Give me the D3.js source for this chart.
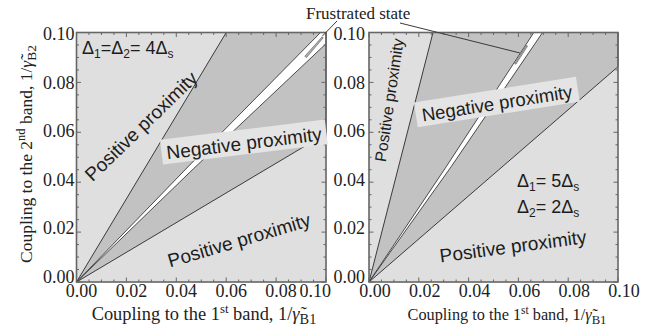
<!DOCTYPE html>
<html><head><meta charset="utf-8">
<script src="https://cdn.jsdelivr.net/npm/d3@7"></script>
<style>html,body{margin:0;padding:0;background:#fff;}svg{display:block;}</style>
</head><body>
<svg id="c" width="645" height="330"></svg>
<script>
// ---- data (values in coupling units) ----
const tickValues = [0, 0.02, 0.04, 0.06, 0.08, 0.10];
const tickLabels = ["0.00", "0.02", "0.04", "0.06", "0.08", "0.10"];
const minorStep = 0.005;
// left panel: Δ1 = Δ2 = 4Δs
const leftNegWedge = [[0, 0], [0.06, 0.1], [0.1, 0.1], [0.1, 0.0595]];
const leftWhiteBand = [[0, 0], [0.045, 0.0465], [0.0978, 0.1], [0.1, 0.1], [0.1, 0.0955], [0.047, 0.0455]];
const leftFrustrated = [[0.0915, 0.0905], [0.0984, 0.0982], [0.0989, 0.0979], [0.0921, 0.0899]];
// right panel: Δ1 = 5Δs, Δ2 = 2Δs
const rightNegWedge = [[0, 0], [0.0257, 0.1], [0.1, 0.1], [0.1, 0.0863]];
const rightWhiteBand = [[0, 0], [0.031, 0.0462], [0.0662, 0.1], [0.0697, 0.1], [0.033, 0.0462]];
const rightFrustrated = [[0.0585, 0.0875], [0.0632, 0.0948], [0.0637, 0.0946], [0.059, 0.0873]];

const svg = d3.select("#c");
const serif = "'Liberation Serif','Times New Roman',serif";
const sans = "'Liberation Sans',Arial,sans-serif";
const cLight = "#dfdfdf", cDark = "#c2c2c2", cLine = "#3a3a3a", cFrame = "#666";

function panel(opt) {
  const x = d3.scaleLinear().domain([0, 0.1]).range([opt.x0, opt.x1]);
  const y = d3.scaleLinear().domain([0, 0.1]).range([282, 32.5]);
  const yLab = d3.scaleLinear().domain([0, 0.1]).range([277, 34]);
  const g = svg.append("g");
  const line = d3.line().x(d => x(d[0])).y(d => y(d[1]));
  g.append("rect").attr("x", x(0)).attr("y", y(0.1)).attr("width", x(0.1) - x(0)).attr("height", y(0) - y(0.1)).attr("fill", cLight);
  g.append("path").attr("d", line(opt.wedge) + "Z").attr("fill", cDark).attr("stroke", cLine).attr("stroke-width", 1);
  g.append("path").attr("d", line(opt.band) + "Z").attr("fill", "#fff").attr("stroke", cLine).attr("stroke-width", 0.9);
  g.append("path").attr("d", line(opt.frust) + "Z").attr("fill", "#b0b0b0").attr("stroke", "#555").attr("stroke-width", 0.6);
  // frame
  g.append("rect").attr("x", x(0)).attr("y", y(0.1)).attr("width", x(0.1) - x(0)).attr("height", y(0) - y(0.1))
    .attr("fill", "none").attr("stroke", cFrame).attr("stroke-width", 1.6);
  // ticks on all sides
  const minors = d3.range(0, 0.1001, minorStep);
  minors.forEach(v => {
    const major = Math.abs(Math.round(v / 0.02) * 0.02 - v) < 1e-9;
    const len = major ? 4.5 : 2.5;
    g.append("line").attr("x1", x(v)).attr("x2", x(v)).attr("y1", y(0)).attr("y2", y(0) - len).attr("stroke", cFrame);
    g.append("line").attr("x1", x(v)).attr("x2", x(v)).attr("y1", y(0.1)).attr("y2", y(0.1) + len).attr("stroke", cFrame);
    g.append("line").attr("y1", y(v)).attr("y2", y(v)).attr("x1", x(0)).attr("x2", x(0) + len).attr("stroke", cFrame);
    g.append("line").attr("y1", y(v)).attr("y2", y(v)).attr("x1", x(0.1)).attr("x2", x(0.1) - len).attr("stroke", cFrame);
  });
  // tick labels
  tickValues.forEach((v, i) => {
    g.append("text").attr("x", x(0) - opt.yLabGap).attr("y", yLab(v) + 6).attr("text-anchor", "end")
      .attr("font-family", serif).attr("font-size", 18).attr("fill", "#222").text(tickLabels[i]);
    let xx = x(v) + opt.xLabOff, anchor = "middle";
    if (opt.lastShift && i === tickValues.length - 1) { xx = opt.lastShift; anchor = "end"; }
    g.append("text").attr("x", xx).attr("y", 297).attr("text-anchor", anchor)
      .attr("font-family", serif).attr("font-size", 18).attr("fill", "#222").text(tickLabels[i]);
  });
  // x title
  const s = opt.titleSize;
  const t = g.append("text").attr("x", opt.titleX).attr("y", 320).attr("text-anchor", "middle")
    .attr("font-family", serif).attr("font-size", s).attr("fill", "#222");
  t.append("tspan").text("Coupling to the 1");
  t.append("tspan").attr("dy", -s * 0.36).attr("font-size", s * 0.7).text("st");
  t.append("tspan").attr("dy", s * 0.36).text(" band, 1/");
  t.append("tspan").attr("font-style", "italic").text("γ\u0303");
  t.append("tspan").attr("dy", s * 0.22).attr("font-size", s * 0.78).text("B1");
  return { x, y, g };
}

const L = panel({ x0: 76.5, x1: 326, wedge: leftNegWedge, band: leftWhiteBand, frust: leftFrustrated, yLabGap: 2, xLabOff: 5, lastShift: 331, titleX: 204, titleSize: 18.4 });
const R = panel({ x0: 369, x1: 618, wedge: rightNegWedge, band: rightWhiteBand, frust: rightFrustrated, yLabGap: 4, xLabOff: 6, lastShift: null, titleX: 507, titleSize: 16.3 });

// y title
const yt = svg.append("text").attr("transform", "translate(32,154) rotate(-90)").attr("text-anchor", "middle")
  .attr("font-family", serif).attr("font-size", 17.5).attr("fill", "#222");
yt.append("tspan").text("Coupling to the 2");
yt.append("tspan").attr("dy", -7).attr("font-size", 12.5).text("nd");
yt.append("tspan").attr("dy", 7).text(" band, 1/");
yt.append("tspan").attr("font-style", "italic").text("γ\u0303");
yt.append("tspan").attr("dy", 4).attr("font-size", 13.5).text("B2");

// sans labels
function label(txt, cx, cy, ang, size, box) {
  const g = svg.append("g").attr("transform", `translate(${cx},${cy}) rotate(${ang})`);
  if (box) g.append("rect").attr("x", -box[0] / 2).attr("y", -box[1] / 2 - 1).attr("width", box[0]).attr("height", box[1]).attr("fill", "#e4e4e4");
  g.append("text").attr("text-anchor", "middle").attr("y", size * 0.36).attr("font-family", sans).attr("font-size", size).attr("fill", "#1c1c1c").text(txt);
}
label("Positive proximity", 141, 126, -44, 19);
label("Negative proximity", 244, 143, -7, 19, [166, 25]);
label("Positive proximity", 239, 240, -16.5, 19);
label("Positive proximity", 389, 100, -81.7, 16);
label("Negative proximity", 497, 103, -9, 18.5, [164, 25]);
label("Positive proximity", 513, 246, -7.5, 19);

// Δ1=Δ2= 4Δs
{
  const t = svg.append("text").attr("x", 82).attr("y", 54).attr("font-family", sans).attr("font-size", 18).attr("fill", "#1c1c1c");
  t.append("tspan").text("Δ"); t.append("tspan").attr("dy", 4).attr("font-size", 12).text("1");
  t.append("tspan").attr("dy", -4).text("=Δ"); t.append("tspan").attr("dy", 4).attr("font-size", 12).text("2");
  t.append("tspan").attr("dy", -4).text("= 4Δ"); t.append("tspan").attr("dy", 4).attr("font-size", 12).text("s");
}
[["5", 187, "1"], ["2", 213, "2"]].forEach(r => {
  const t = svg.append("text").attr("x", 517).attr("y", r[1]).attr("font-family", sans).attr("font-size", 18).attr("fill", "#1c1c1c");
  t.append("tspan").text("Δ"); t.append("tspan").attr("dy", 4).attr("font-size", 12).text(r[2]);
  t.append("tspan").attr("dy", -4).text("= " + r[0] + "Δ"); t.append("tspan").attr("dy", 4).attr("font-size", 12).text("s");
});

// Frustrated state annotation
svg.append("text").attr("x", 306).attr("y", 19).attr("font-family", serif).attr("font-size", 17).attr("fill", "#222").text("Frustrated state");
svg.append("line").attr("x1", 337).attr("y1", 21).attr("x2", L.x(0.0985)).attr("y2", L.y(0.0985)).attr("stroke", cLine).attr("stroke-width", 1);
svg.append("line").attr("x1", 400).attr("y1", 23).attr("x2", R.x(0.0606)).attr("y2", R.y(0.0918)).attr("stroke", cLine).attr("stroke-width", 1);
</script>
</body></html>
